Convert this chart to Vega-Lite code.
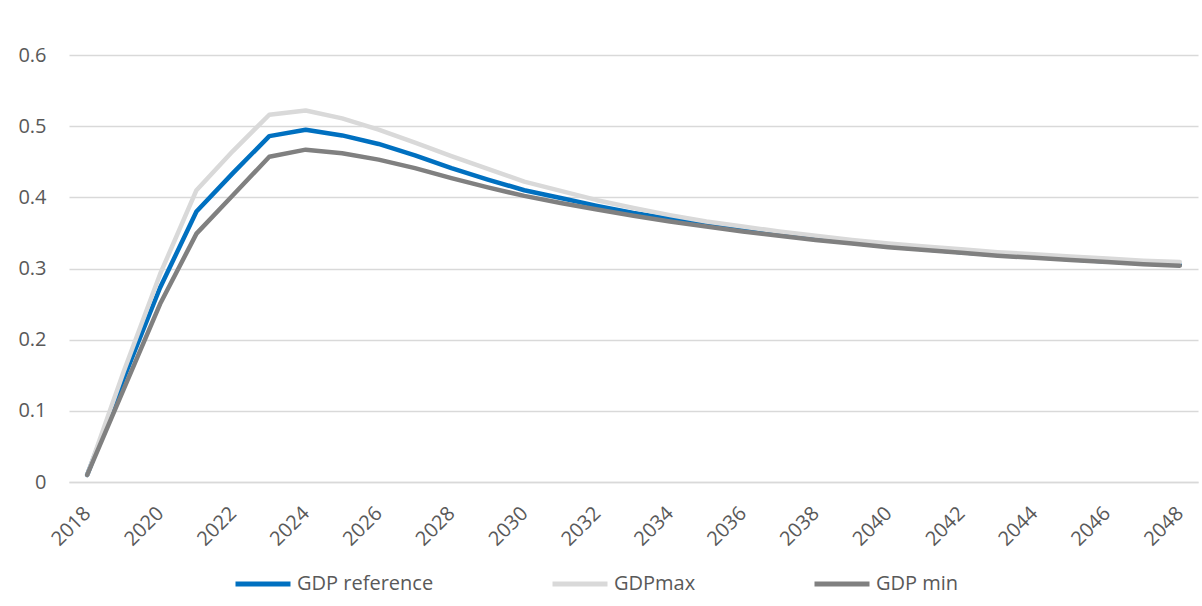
{
  "$schema": "https://vega.github.io/schema/vega-lite/v6.json",
  "autosize": {"type": "none"},
  "padding": {"left": 69, "top": 55, "right": 4, "bottom": 124},
  "width": 1129,
  "height": 427,
  "background": "white",
  "config": {
    "font": "Open Sans",
    "view": {"stroke": null}
  },
  "datasets": {
    "ref": [
      {"year": 2018, "v": 0.01}, {"year": 2019, "v": 0.145}, {"year": 2020, "v": 0.273}, {"year": 2021, "v": 0.38},
      {"year": 2022, "v": 0.434}, {"year": 2023, "v": 0.486}, {"year": 2024, "v": 0.495}, {"year": 2025, "v": 0.487},
      {"year": 2026, "v": 0.475}, {"year": 2027, "v": 0.459}, {"year": 2028, "v": 0.441}, {"year": 2029, "v": 0.425},
      {"year": 2030, "v": 0.41}, {"year": 2031, "v": 0.399}, {"year": 2032, "v": 0.388}, {"year": 2033, "v": 0.378},
      {"year": 2034, "v": 0.37}, {"year": 2035, "v": 0.362}, {"year": 2036, "v": 0.355}, {"year": 2037, "v": 0.348},
      {"year": 2038, "v": 0.342}, {"year": 2039, "v": 0.336}, {"year": 2040, "v": 0.331}, {"year": 2041, "v": 0.327},
      {"year": 2042, "v": 0.323}, {"year": 2043, "v": 0.319}, {"year": 2044, "v": 0.316}, {"year": 2045, "v": 0.313},
      {"year": 2046, "v": 0.31}, {"year": 2047, "v": 0.308}, {"year": 2048, "v": 0.305}
    ],
    "max": [
      {"year": 2018, "v": 0.01}, {"year": 2019, "v": 0.155}, {"year": 2020, "v": 0.292}, {"year": 2021, "v": 0.41},
      {"year": 2022, "v": 0.465}, {"year": 2023, "v": 0.516}, {"year": 2024, "v": 0.522}, {"year": 2025, "v": 0.511},
      {"year": 2026, "v": 0.495}, {"year": 2027, "v": 0.477}, {"year": 2028, "v": 0.458}, {"year": 2029, "v": 0.44},
      {"year": 2030, "v": 0.422}, {"year": 2031, "v": 0.409}, {"year": 2032, "v": 0.396}, {"year": 2033, "v": 0.385},
      {"year": 2034, "v": 0.375}, {"year": 2035, "v": 0.366}, {"year": 2036, "v": 0.359}, {"year": 2037, "v": 0.352},
      {"year": 2038, "v": 0.346}, {"year": 2039, "v": 0.34}, {"year": 2040, "v": 0.335}, {"year": 2041, "v": 0.331},
      {"year": 2042, "v": 0.327}, {"year": 2043, "v": 0.323}, {"year": 2044, "v": 0.32}, {"year": 2045, "v": 0.317},
      {"year": 2046, "v": 0.314}, {"year": 2047, "v": 0.311}, {"year": 2048, "v": 0.309}
    ],
    "min": [
      {"year": 2018, "v": 0.01}, {"year": 2019, "v": 0.13}, {"year": 2020, "v": 0.25}, {"year": 2021, "v": 0.349},
      {"year": 2022, "v": 0.403}, {"year": 2023, "v": 0.457}, {"year": 2024, "v": 0.467}, {"year": 2025, "v": 0.462},
      {"year": 2026, "v": 0.453}, {"year": 2027, "v": 0.441}, {"year": 2028, "v": 0.427}, {"year": 2029, "v": 0.414},
      {"year": 2030, "v": 0.402}, {"year": 2031, "v": 0.392}, {"year": 2032, "v": 0.383}, {"year": 2033, "v": 0.374},
      {"year": 2034, "v": 0.366}, {"year": 2035, "v": 0.359}, {"year": 2036, "v": 0.352}, {"year": 2037, "v": 0.346},
      {"year": 2038, "v": 0.34}, {"year": 2039, "v": 0.335}, {"year": 2040, "v": 0.33}, {"year": 2041, "v": 0.326},
      {"year": 2042, "v": 0.322}, {"year": 2043, "v": 0.318}, {"year": 2044, "v": 0.315}, {"year": 2045, "v": 0.312},
      {"year": 2046, "v": 0.309}, {"year": 2047, "v": 0.306}, {"year": 2048, "v": 0.304}
    ]
  },
  "layer": [
    {
      "data": {"name": "ref"},
      "transform": [{"calculate": "'GDP reference'", "as": "series"}],
      "mark": {"type": "line", "strokeWidth": 4.5, "strokeCap": "round", "strokeJoin": "round"},
      "encoding": {
        "x": {"field": "year", "type": "ordinal", "scale": {"type": "point", "padding": 0.5},
          "axis": {"title": null, "values": [2018,2020,2022,2024,2026,2028,2030,2032,2034,2036,2038,2040,2042,2044,2046,2048],
            "labelAngle": -45, "labelAlign": "right", "labelBaseline": "middle", "labelPadding": 28,
            "ticks": false, "tickSize": 0, "domainColor": "#D9D9D9", "domainWidth": 1.3,
            "labelFontSize": 20, "labelColor": "#595959", "grid": false}},
        "y": {"field": "v", "type": "quantitative", "scale": {"domain": [0, 0.6], "nice": false},
          "axis": {"title": null, "values": [0, 0.1, 0.2, 0.3, 0.4, 0.5, 0.6], "ticks": false, "tickSize": 0,
            "domain": false, "labelAlign": "right", "labelPadding": 23, "labelFontSize": 20, "labelColor": "#595959",
            "gridColor": "#D9D9D9", "gridWidth": 1.3, "format": "~g"}},
        "color": {"field": "series", "type": "nominal",
          "scale": {"domain": ["GDP reference", "GDPmax", "GDP min"], "range": ["#0070C0", "#D9D9D9", "#808080"]},
          "legend": {"orient": "none", "legendX": 164, "legendY": 499, "direction": "horizontal", "title": null,
            "symbolType": "stroke", "symbolSize": 3025, "symbolStrokeWidth": 5, "labelFontSize": 20,
            "labelColor": "#595959", "labelOffset": 4, "columnPadding": 108}}
      }
    },
    {
      "data": {"name": "max"},
      "transform": [{"calculate": "'GDPmax'", "as": "series"}],
      "mark": {"type": "line", "strokeWidth": 4.5, "strokeCap": "round", "strokeJoin": "round"},
      "encoding": {
        "x": {"field": "year", "type": "ordinal"},
        "y": {"field": "v", "type": "quantitative"},
        "color": {"field": "series", "type": "nominal"}
      }
    },
    {
      "data": {"name": "min"},
      "transform": [{"calculate": "'GDP min'", "as": "series"}],
      "mark": {"type": "line", "strokeWidth": 4.5, "strokeCap": "round", "strokeJoin": "round"},
      "encoding": {
        "x": {"field": "year", "type": "ordinal"},
        "y": {"field": "v", "type": "quantitative"},
        "color": {"field": "series", "type": "nominal"}
      }
    }
  ]
}
